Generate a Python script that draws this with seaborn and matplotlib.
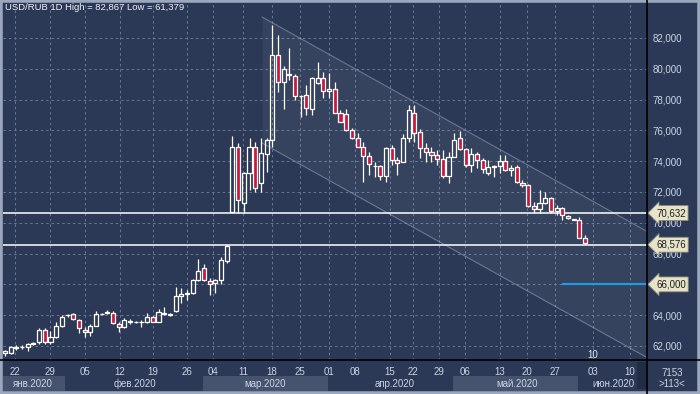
import numpy as np
import matplotlib
matplotlib.use("Agg")
import matplotlib.pyplot as plt
import matplotlib.transforms as mtransforms
from matplotlib.patches import Rectangle
from matplotlib.lines import Line2D
import seaborn as sns

# USD/RUB daily candles
opens = [
    61.55, 61.55, 61.90, 61.92, 61.94, 62.13, 62.23, 63.04, 62.23, 62.58,
    63.30, 63.98, 64.08, 63.69, 63.07, 62.88, 63.33, 64.05, 64.16, 64.14,
    63.43, 63.23, 63.56, 63.54, 63.53, 63.54, 63.86, 63.58, 64.17, 64.02,
    64.27, 65.27, 65.38, 65.42, 66.29, 67.04, 66.22, 66.07, 66.29, 67.54,
    70.72, 74.94, 71.27, 73.21, 74.94, 72.60, 74.47, 75.38, 80.90, 79.16,
    79.62, 79.53, 78.21, 78.30, 77.37, 79.06, 79.38, 78.56, 78.67, 77.15,
    77.05, 76.03, 75.53, 74.94, 74.34, 73.67, 73.69, 73.04, 74.84, 74.08,
    73.97, 75.49, 77.11, 75.91, 74.84, 74.62, 74.40, 74.14, 73.04, 74.29,
    75.49, 74.77, 73.75, 74.45, 74.08, 73.21, 73.64, 73.69, 74.01, 73.43,
    73.64, 72.60, 72.45, 71.09, 70.88, 71.27, 71.59, 70.79, 70.94, 70.44,
    70.18, 70.18, 68.99]
closes = [
    61.68, 61.94, 61.94, 61.94, 62.13, 62.19, 63.04, 62.29, 62.58, 63.30,
    63.88, 64.01, 63.73, 63.17, 62.91, 63.33, 64.08, 64.08, 64.18, 63.46,
    63.21, 63.69, 63.59, 63.56, 63.56, 63.86, 63.58, 64.19, 64.08, 64.05,
    65.27, 65.38, 65.39, 66.29, 66.89, 66.29, 66.01, 66.29, 67.58, 68.51,
    74.94, 71.48, 73.21, 74.94, 72.24, 74.51, 75.38, 80.90, 79.16, 79.97,
    79.65, 78.23, 78.23, 77.43, 79.38, 79.38, 78.56, 78.69, 77.15, 76.57,
    76.03, 75.53, 74.94, 74.34, 73.80, 73.69, 73.04, 74.84, 74.08, 73.90,
    75.49, 77.32, 75.86, 74.84, 74.62, 74.40, 74.14, 73.04, 74.29, 75.38,
    74.77, 73.75, 74.45, 74.08, 73.47, 73.64, 73.65, 74.01, 73.43, 73.58,
    72.63, 72.45, 71.09, 70.88, 71.27, 71.59, 70.79, 70.94, 70.51, 70.29,
    70.19, 68.99, 68.70]
highs = [
    61.74, 62.00, 62.07, 62.07, 62.19, 62.28, 63.17, 63.17, 62.97, 63.56,
    64.01, 64.08, 64.17, 63.75, 63.23, 63.43, 64.27, 64.14, 64.34, 64.27,
    63.56, 63.79, 63.72, 63.62, 63.66, 64.14, 63.92, 64.38, 64.51, 64.11,
    65.81, 65.75, 65.64, 66.35, 67.63, 67.33, 66.42, 66.35, 67.76, 68.58,
    75.64, 75.16, 73.30, 75.49, 75.27, 75.49, 75.51, 82.867, 82.19, 80.18,
    81.33, 79.66, 78.30, 78.95, 79.47, 80.42, 79.77, 79.71, 79.16, 77.32,
    77.37, 76.16, 75.81, 75.27, 74.62, 73.97, 73.75, 74.92, 75.05, 74.27,
    75.77, 77.65, 77.65, 76.07, 75.16, 74.94, 74.73, 74.73, 74.62, 75.81,
    75.98, 74.86, 74.84, 74.62, 74.21, 74.08, 73.75, 74.40, 74.40, 73.75,
    73.75, 72.78, 72.52, 71.37, 72.13, 72.02, 71.68, 71.16, 71.03, 70.51,
    70.19, 70.36, 69.21]
lows = [
    61.379, 61.48, 61.74, 61.81, 61.68, 62.07, 62.16, 62.13, 62.13, 62.52,
    63.23, 63.88, 63.69, 62.84, 62.58, 62.62, 63.30, 64.01, 64.08, 63.43,
    62.91, 63.17, 63.43, 63.49, 63.25, 63.49, 63.53, 63.56, 64.01, 63.95,
    64.23, 64.77, 64.99, 65.38, 66.22, 66.22, 65.31, 65.46, 66.01, 67.39,
    70.67, 70.66, 70.66, 72.13, 72.02, 72.02, 73.32, 74.94, 78.51, 77.37,
    79.27, 77.97, 76.89, 77.00, 77.00, 79.01, 78.08, 78.08, 77.13, 76.55,
    75.96, 75.47, 74.89, 72.67, 73.10, 72.99, 72.78, 72.67, 73.75, 73.10,
    73.95, 75.27, 75.27, 74.19, 73.97, 73.97, 73.75, 72.89, 72.60, 74.27,
    74.73, 73.64, 73.32, 73.54, 73.21, 73.10, 72.95, 73.21, 73.36, 73.04,
    72.58, 72.34, 71.01, 70.66, 70.66, 71.22, 70.66, 70.51, 70.18, 70.25,
    70.18, 68.98, 68.60]

# date axis (positions in bar index units)
tick_pos = [1.76, 7.91, 14.07, 20.22, 26.03, 32.01, 36.58, 41.86, 46.96, 51.88,
            56.98, 61.55, 67.71, 71.76, 76.33, 80.90, 87.06, 91.81, 96.73,
            103.41, 109.92]
tick_labels = ["22", "29", "05", "12", "19", "26", "04", "11", "18", "25",
               "01", "08", "15", "22", "29", "06", "13", "20", "27", "03", "10"]
month_names = ["янв.2020", "фев.2020", "мар.2020", "апр.2020", "май.2020", "июн.2020"]
month_pos = [4.9, 22.9, 45.7, 68.6, 90.0, 107.0]
month_bands = [(-0.35, 10.6), (34.8, 56.8), (78.8, 100.8)]

price_ticks = [62, 64, 66, 68, 70, 72, 74, 76, 78, 80, 82]

# drawn objects
channel_x = [45.2, 112.9]
channel_upper = [83.36, 69.44]
channel_lower = [75.18, 61.25]
levels = [70.632, 68.576]
level_labels = ["70,632", "68,576"]
target_level = 66.0
target_x = [98.0, 112.9]
target_label = "66,000"

BG = "#2c3956"
RED = "#c8193c"
TXT = "#c9d3e6"
GRID = "#6a7898"

sns.set_theme(style="dark", rc={"axes.facecolor": BG, "figure.facecolor": BG})
plt.rcParams["font.family"] = ["Liberation Sans", "DejaVu Sans"]

W, H = 700, 394


def frac(x0, y0, x1, y1):
    return [x0 / W, 1 - y1 / H, (x1 - x0) / W, (y1 - y0) / H]


fig = plt.figure(figsize=(7, 3.94), dpi=100)
ax = fig.add_axes(frac(3, 3, 647, 360))
axb = fig.add_axes(frac(3, 360, 647, 391), sharex=ax)

o = np.array(opens)
c = np.array(closes)
hi = np.array(highs)
lo = np.array(lows)
x = np.arange(len(o))
up = c >= o
body_lo = np.minimum(o, c)
body_hi = np.maximum(o, c)
body_h = np.maximum(body_hi - body_lo, 0.04)

# channel
ax.fill_between(channel_x, channel_lower, channel_upper, color="white", alpha=0.05, lw=0, zorder=1)
ax.plot(channel_x, channel_upper, color="#9aa6bf", lw=0.8, alpha=0.55, zorder=1)
ax.plot(channel_x, channel_lower, color="#9aa6bf", lw=0.8, alpha=0.55, zorder=1)

# levels
for lv in levels:
    ax.axhline(lv, color="white", lw=1.1, zorder=2)
ax.hlines(target_level, target_x[0], target_x[1], color="#1d9be2", lw=1.6, zorder=2)

# candles
ax.vlines(x, lo, body_lo, color="white", lw=0.9, zorder=3)
ax.vlines(x, body_hi, hi, color="white", lw=0.9, zorder=3)
ax.bar(x[up], body_h[up], bottom=body_lo[up], width=0.72, color="none",
       edgecolor="white", linewidth=0.9, zorder=4)
ax.bar(x[~up], body_h[~up], bottom=body_lo[~up], width=0.72, color=RED,
       edgecolor="white", linewidth=0.9, zorder=4)

ax.set_xlim(-0.35, 112.9)
ax.set_ylim(61.09, 84.27)
ax.set_yticks(price_ticks)
# the 66,000 grid label sits under the target tag
ax.set_yticklabels(["" if v == target_level else f"{v},000" for v in price_ticks])
ax.yaxis.tick_right()
ax.tick_params(axis="y", length=0, pad=4, labelsize=7, labelcolor=TXT)
ax.set_xticks(tick_pos)
ax.tick_params(axis="x", length=0, labelbottom=False)
ax.grid(True, color=GRID, ls=(0, (2.5, 3)), lw=0.7)
for s in ax.spines.values():
    s.set_visible(False)

ax.text(0.003, 0.987, "USD/RUB 1D High = 82,867 Low = 61,379", transform=ax.transAxes,
        fontsize=6.8, color="#eef2f8", ha="left", va="center")
ax.text(103.4, 61.4, "10", fontsize=7, color="#e6ebf3", ha="center", va="center")

# price tags
blend = mtransforms.blended_transform_factory(ax.transAxes, ax.transData)
for lv, lab in zip(levels + [target_level], level_labels + [target_label]):
    ax.text(1.014, lv, lab, transform=blend, fontsize=7, color="#1e1e1e",
            ha="left", va="center", clip_on=False, zorder=10,
            bbox=dict(boxstyle="larrow,pad=0.25", fc="#e7e3c9", ec="#8e8b77", lw=0.6))

# bottom date axis
axb.set_ylim(0, 1)
axb.set_facecolor(BG)
axb.grid(False)
axb.set_yticks([])
axb.tick_params(axis="x", length=0, labelbottom=False)
for s in axb.spines.values():
    s.set_visible(False)
for a, b in month_bands:
    axb.axvspan(a, b, ymin=0.0, ymax=0.47, color="#46536f", lw=0)
axb.axvspan(111.1, 112.9, ymin=0.05, ymax=0.95, color="#222c44", lw=0)
for p, lab in zip(tick_pos, tick_labels):
    axb.text(p, 0.6, lab, fontsize=7, color=TXT, ha="center", va="center")
for p, lab in zip(month_pos, month_names):
    axb.text(p, 0.24, lab, fontsize=7, color=TXT, ha="center", va="center")

# separators, frame and corner counter
fig.add_artist(Line2D([647 / W, 647 / W], [0, 1], color="black", lw=1.2))
fig.add_artist(Line2D([0, 1], [1 - 360 / H, 1 - 360 / H], color="black", lw=1.2))
fig.add_artist(Rectangle((0, 0), 1, 1, transform=fig.transFigure, fill=False,
                         ec="#9aa7bd", lw=4))
fig.text(672 / W, 1 - 373 / H, "7153", fontsize=7, color=TXT, ha="center", va="center")
fig.text(672 / W, 1 - 384 / H, ">113<", fontsize=7, color=TXT, ha="center", va="center")

fig.savefig("out.png", dpi=100)
